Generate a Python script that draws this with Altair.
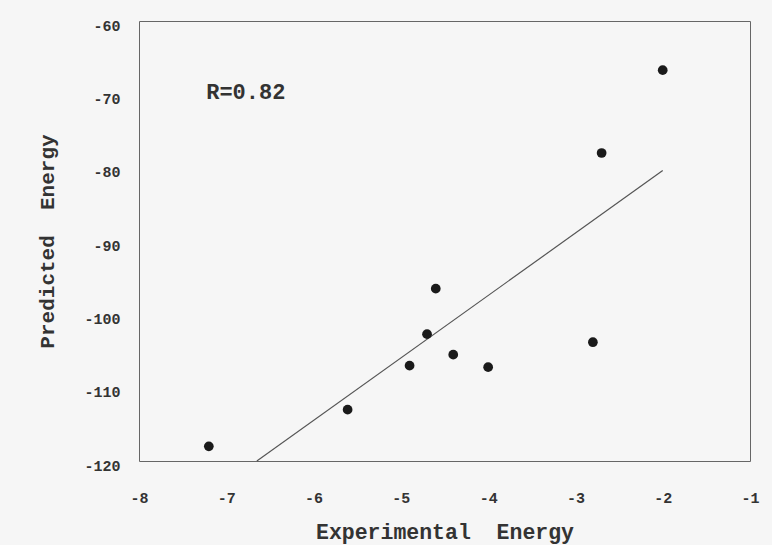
import altair as alt
import pandas as pd

# Data
experimental = [-7.20, -5.61, -4.90, -4.70, -4.60, -4.40, -4.00, -2.80, -2.70, -2.00]
predicted = [-118.0, -113.0, -107.0, -102.7, -96.5, -105.5, -107.2, -103.8, -78.0, -66.7]

fit_x = [-6.65, -2.00]
fit_y = [-120.0, -80.4]

label_text = ["R=0.82"]
label_x = [-7.23]
label_y = [-69.7]

x_ticks = [-8, -7, -6, -5, -4, -3, -2, -1]
y_ticks = [-60, -70, -80, -90, -100, -110, -120]

pts = pd.DataFrame({"x": experimental, "y": predicted})
fit = pd.DataFrame({"x": fit_x, "y": fit_y})
lab = pd.DataFrame({"x": label_x, "y": label_y, "t": label_text})

FONT = "Liberation Mono"
TXT = "#333333"
NB = "\u00a0"

xs = alt.Scale(domain=[-8, -1], nice=False, zero=False)
ys = alt.Scale(domain=[-120, -60], nice=False, zero=False)

xaxis = alt.Axis(
    title="Experimental" + NB + NB + "Energy", values=x_ticks, grid=False, ticks=False, domain=False,
    labelExpr="'' + datum.value",
    labelFont=FONT, labelFontSize=15, labelFontWeight="bold", labelColor=TXT,
    labelPadding=29, titleFont=FONT, titleFontSize=21.5, titleFontWeight="bold",
    titleColor=TXT, titlePadding=16, labelFlush=False,
)
yaxis = alt.Axis(
    title="Predicted" + NB + NB + "Energy", values=y_ticks, grid=False, ticks=False, domain=False,
    labelExpr="'' + datum.value",
    labelFont=FONT, labelFontSize=15, labelFontWeight="bold", labelColor=TXT,
    labelPadding=19, labelOffset=4, titleFont=FONT, titleFontSize=21,
    titleFontWeight="bold", titleColor=TXT, titlePadding=26, labelFlush=False,
)

points = alt.Chart(pts).mark_circle(size=95, color="#1a1a1a", opacity=1).encode(
    x=alt.X("x:Q", scale=xs, axis=xaxis),
    y=alt.Y("y:Q", scale=ys, axis=yaxis),
)

line = alt.Chart(fit).mark_line(color="#555555", strokeWidth=1.2).encode(
    x=alt.X("x:Q", scale=xs),
    y=alt.Y("y:Q", scale=ys),
)

text = alt.Chart(lab).mark_text(
    align="left", baseline="middle", font=FONT, fontSize=22, fontWeight="bold", color=TXT
).encode(
    x=alt.X("x:Q", scale=xs),
    y=alt.Y("y:Q", scale=ys),
    text="t:N",
)

chart = alt.layer(line, points, text).properties(
    width=611, height=440,
    autosize=alt.AutoSizeParams(type="none"),
    padding={"left": 139, "top": 21, "right": 22, "bottom": 84},
    background="#f6f6f6",
).configure_view(stroke="#666666", strokeWidth=1)

chart.save("out.html", embed_options={"renderer": "svg", "actions": False})
